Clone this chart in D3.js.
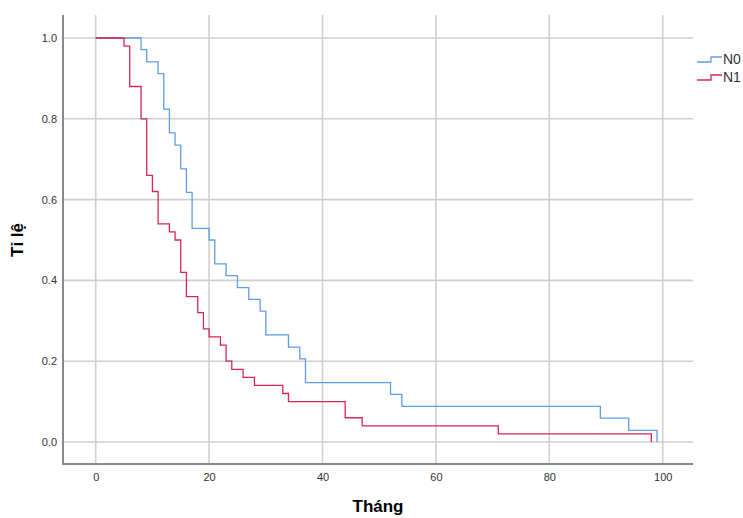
<!DOCTYPE html>
<html>
<head>
<meta charset="utf-8">
<script src="https://cdn.jsdelivr.net/npm/d3@7"></script>
<style>
  body { margin: 0; background: #fff; }
  svg { display: block; }
</style>
</head>
<body>
<div id="chart"></div>
<script>
// survival steps
let timesN0 = [0, 8, 9, 11, 12, 13, 14, 15, 16, 17, 20, 21, 23, 25, 27, 29, 30, 34, 36, 37, 52, 54, 89, 94, 99];
let survN0 = [1, 0.971, 0.941, 0.912, 0.824, 0.765, 0.735, 0.676, 0.618, 0.529, 0.5, 0.441, 0.412, 0.382, 0.353, 0.324, 0.265, 0.235, 0.206, 0.147, 0.118, 0.088, 0.059, 0.029, 0];

let timesN1 = [0, 5, 6, 8, 9, 10, 11, 13, 14, 15, 16, 18, 19, 20, 22, 23, 24, 26, 28, 33, 34, 44, 47, 71, 98];
let survN1 = [1, 0.98, 0.88, 0.80, 0.66, 0.62, 0.54, 0.52, 0.50, 0.42, 0.36, 0.32, 0.28, 0.26, 0.24, 0.20, 0.18, 0.16, 0.14, 0.12, 0.10, 0.06, 0.04, 0.02, 0];

let groups = ["N0", "N1"];
let xTicks = [0, 20, 40, 60, 80, 100];
let yTicks = [0, 0.2, 0.4, 0.6, 0.8, 1.0];

let colors = {N0: "#5f9de6", N1: "#d8264f"};

let width = 743, height = 518;
let plotL = 63, plotR = 693, plotT = 15, plotB = 464;

let x = d3.scaleLinear().domain([0, 100]).range([95.7, 662.7]);
let y = d3.scaleLinear().domain([0, 1]).range([442, 38]);

let svg = d3.select("#chart")
    .append("svg")
    .attr("width", width)
    .attr("height", height)
    .attr("font-family", "Arial, 'Liberation Sans', sans-serif");

// grid
svg.append("g")
    .selectAll("line")
    .data(xTicks)
    .join("line")
    .attr("x1", d => x(d)).attr("x2", d => x(d))
    .attr("y1", plotT).attr("y2", plotB)
    .attr("stroke", "#cfcfcf").attr("stroke-width", 1.6);

svg.append("g")
    .selectAll("line")
    .data(yTicks)
    .join("line")
    .attr("y1", d => y(d)).attr("y2", d => y(d))
    .attr("x1", plotL).attr("x2", plotR)
    .attr("stroke", "#cfcfcf").attr("stroke-width", 1.6);

// axes
let xAxis = d3.axisBottom(x).tickValues(xTicks).tickSize(0).tickPadding(9).tickFormat(d3.format("d"));
let yAxis = d3.axisLeft(y).tickValues(yTicks).tickSize(0).tickPadding(6).tickFormat(d3.format(".1f"));

let gx = svg.append("g").attr("transform", `translate(0,${plotB})`).call(xAxis);
let gy = svg.append("g").attr("transform", `translate(${plotL},0)`).call(yAxis);

gx.select(".domain").remove();
gy.select(".domain").remove();
[gx, gy].forEach(g => g.selectAll("text")
    .attr("font-size", 11)
    .attr("font-family", "Arial, 'Liberation Sans', sans-serif")
    .attr("fill", "#333"));

svg.append("line")
    .attr("x1", plotL).attr("x2", plotL)
    .attr("y1", plotT).attr("y2", plotB + 1)
    .attr("stroke", "#8a8a8a").attr("stroke-width", 2);
svg.append("line")
    .attr("x1", plotL).attr("x2", plotR)
    .attr("y1", plotB).attr("y2", plotB)
    .attr("stroke", "#8a8a8a").attr("stroke-width", 2);

// curves
let series = [
    {name: "N0", t: timesN0, s: survN0},
    {name: "N1", t: timesN1, s: survN1}
];

let line = d3.line()
    .x(d => x(d[0]))
    .y(d => y(d[1]))
    .curve(d3.curveStepAfter);

series.forEach(ser => {
    let pts = ser.t.map((t, i) => [t, ser.s[i]]);
    svg.append("path")
        .datum(pts)
        .attr("fill", "none")
        .attr("stroke", colors[ser.name])
        .attr("stroke-width", 1.3)
        .attr("d", line);
});

// legend
let legend = svg.append("g");
groups.forEach((g, i) => {
    let ly = 62 + i * 18;
    legend.append("path")
        .attr("d", `M697,${ly}H711V${ly - 5}H722`)
        .attr("fill", "none")
        .attr("stroke", colors[g])
        .attr("stroke-width", 1.3);
    legend.append("text")
        .attr("x", 723)
        .attr("y", ly + 2)
        .attr("font-size", 14)
        .attr("fill", "#333")
        .text(g);
});

// titles
svg.append("text")
    .attr("x", 378)
    .attr("y", 512)
    .attr("text-anchor", "middle")
    .attr("font-size", 17)
    .attr("font-weight", "bold")
    .text("Tháng");

svg.append("text")
    .attr("transform", "translate(23,240) rotate(-90)")
    .attr("text-anchor", "middle")
    .attr("font-size", 17)
    .attr("font-weight", "bold")
    .text("Tỉ lệ");
</script>
</body>
</html>
